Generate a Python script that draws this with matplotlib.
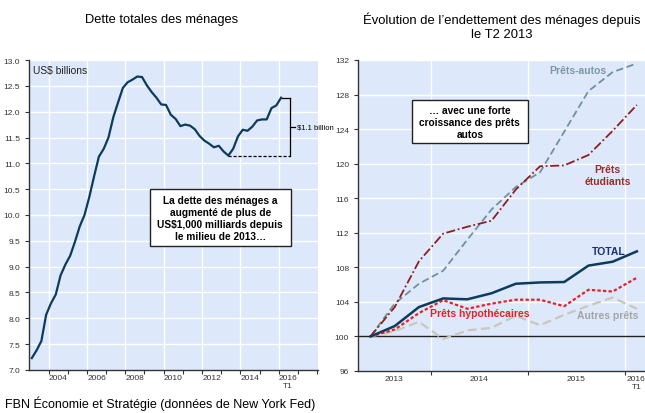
import numpy as np
import pandas as pd
import matplotlib
matplotlib.use("Agg")
import matplotlib.pyplot as plt
from matplotlib.patches import Rectangle
from matplotlib.ticker import FixedLocator, NullFormatter, FixedFormatter

plt.rcParams['font.family'] = ['Liberation Sans', 'DejaVu Sans']
NARROW = ['Liberation Sans Narrow', 'Liberation Sans', 'DejaVu Sans']

# --- data -------------------------------------------------------------
# household debt, trillions USD, 2003Q1..2016Q1
debt = [7.23, 7.38, 7.56, 8.07,
        8.29, 8.46, 8.83, 9.04,
        9.21, 9.48, 9.78, 10.00,
        10.35, 10.75, 11.13, 11.28,
        11.50, 11.89, 12.18, 12.46,
        12.57, 12.62, 12.68, 12.67,
        12.51, 12.38, 12.27, 12.14,
        12.13, 11.94, 11.86, 11.72,
        11.75, 11.73, 11.66, 11.53,
        11.44, 11.38, 11.31, 11.34,
        11.23, 11.15, 11.28, 11.52,
        11.65, 11.63, 11.71, 11.83,
        11.85, 11.85, 12.07, 12.12,
        12.27]
q_left = pd.period_range('2003Q1', '2016Q1', freq='Q')

# index 2013Q2 = 100
q_right = pd.period_range('2013Q2', '2016Q1', freq='Q')
autos = [100, 103.8, 106.1, 107.6, 111.2, 114.7, 117.3, 119.0, 123.7, 128.4, 130.6, 131.6]
etudiants = [100, 103.4, 108.7, 111.9, 112.7, 113.4, 117.0, 119.7, 119.8, 121.0, 123.8, 126.8]
total = [100, 101.2, 103.4, 104.4, 104.3, 105.0, 106.1, 106.25, 106.3, 108.2, 108.65, 109.85]
hypo = [100, 100.8, 102.7, 104.2, 103.2, 103.8, 104.25, 104.25, 103.5, 105.4, 105.2, 106.8]
autres = [100, 100.6, 101.7, 99.7, 100.7, 101.0, 102.4, 101.3, 102.5, 103.55, 104.5, 103.2]

left_years = [2004, 2006, 2008, 2010, 2012, 2014, 2016]
right_years = [2013, 2014, 2015, 2016]


def qpos(periods):
    return np.array([p.year + (p.quarter - 1) / 4 + 0.125 for p in periods])


def boxed(ax, x0, x1, y0, y1, txt):
    ax.add_patch(Rectangle((x0, y0), x1 - x0, y1 - y0, fc='white', ec='#222222', lw=1.0, zorder=5))
    ax.text((x0 + x1) / 2, (y0 + y1) / 2, txt, fontsize=7.3, fontweight='bold', ha='center',
            va='center', linespacing=1.25, zorder=6)


BG = '#dde9fa'
NAVY = '#0c3b5c'

fig = plt.figure(figsize=(6.45, 4.14), dpi=100)

# --- left chart -------------------------------------------------------
ax1 = fig.add_axes([29 / 645, 1 - 371 / 414, 289 / 645, 310 / 414])
ax1.set_facecolor(BG)
xl = qpos(q_left)
ax1.plot(xl, debt, color=NAVY, lw=1.6, zorder=3)
ax1.set_xlim(2002.98, 2018.05)
ax1.set_ylim(7.0, 13.0)
ax1.set_yticks(np.arange(7.0, 13.01, 0.5))
ax1.set_yticklabels([f"{v:.1f}" for v in np.arange(7.0, 13.01, 0.5)])
ax1.xaxis.set_major_locator(FixedLocator(np.arange(2004, 2019)))
ax1.xaxis.set_major_formatter(NullFormatter())
ax1.xaxis.set_minor_locator(FixedLocator([y + 0.5 for y in left_years]))
ax1.xaxis.set_minor_formatter(FixedFormatter([str(y) for y in left_years[:-1]] + ['2016\nT1']))
ax1.tick_params(axis='x', which='minor', length=0, pad=3)
ax1.tick_params(axis='both', which='major', length=3, width=0.8, color='#333333')
for lab in ax1.get_yticklabels() + ax1.get_xticklabels(which='minor'):
    lab.set_family(NARROW)
    lab.set_fontsize(6)
    lab.set_color('#333333')
for y in np.arange(7.5, 13.01, 0.5):
    ax1.axhline(y, color='white', lw=1.0, zorder=1)
for y in left_years:
    ax1.axvline(y, color='white', lw=1.0, zorder=1)
for s in ['top', 'right']:
    ax1.spines[s].set_visible(False)
for s in ['left', 'bottom']:
    ax1.spines[s].set_color('#333333')
    ax1.spines[s].set_linewidth(1.0)

ax1.text(0.015, 0.985, 'US$ billions', transform=ax1.transAxes, fontsize=7.4,
         va='top', ha='left', color='#222222')

# bracket for the rise since the 2013 low
imin = int(np.argmin(debt[40:])) + 40
xb = 2016.59
ax1.plot([xl[imin], xb], [debt[imin], debt[imin]], color='black', lw=0.9, ls=(0, (2.5, 1.5)), zorder=4)
ax1.plot([xl[-1] + 0.05, xb], [debt[-1], debt[-1]], color='black', lw=0.9, zorder=4)
ax1.plot([xb, xb], [debt[imin], debt[-1]], color='black', lw=0.9, zorder=4)
ymid = (debt[imin] + debt[-1]) / 2
ax1.plot([xb, xb + 0.25], [ymid, ymid], color='black', lw=0.9, zorder=4)
ax1.text(xb + 0.35, ymid, '$1.1 billion', fontsize=5.5, va='center', ha='left', clip_on=False)

boxed(ax1, 2009.28, 2016.62, 9.40, 10.50,
      'La dette des ménages a\naugmenté de plus de\nUS$1,000 milliards depuis\nle milieu de 2013…')

fig.text(162 / 645, 1 - 20 / 414, 'Dette totales des ménages', fontsize=9.3, ha='center', va='center')

# --- right chart ------------------------------------------------------
ax2 = fig.add_axes([358 / 645, 1 - 372 / 414, 290 / 645, 311 / 414])
ax2.set_facecolor(BG)
xr = qpos(q_right)
ax2.set_xlim(2013.246, 2016.24)
ax2.set_ylim(96, 132)
ax2.set_yticks(np.arange(96, 133, 4))
ax2.xaxis.set_major_locator(FixedLocator([2014, 2015, 2016]))
ax2.xaxis.set_major_formatter(NullFormatter())
ax2.xaxis.set_minor_locator(FixedLocator([2013.62, 2014.5, 2015.5, 2016.12]))
ax2.xaxis.set_minor_formatter(FixedFormatter(['2013', '2014', '2015', '2016\nT1']))
ax2.tick_params(axis='x', which='minor', length=0, pad=3)
ax2.tick_params(axis='both', which='major', length=3, width=0.8, color='#333333')
for lab in ax2.get_yticklabels() + ax2.get_xticklabels(which='minor'):
    lab.set_family(NARROW)
    lab.set_fontsize(6)
    lab.set_color('#333333')
for y in np.arange(104, 133, 4):
    ax2.axhline(y, color='white', lw=1.0, zorder=1)
for y in [2014, 2015, 2016]:
    ax2.axvline(y, color='white', lw=1.0, zorder=1)
ax2.axhline(100, color='#222222', lw=1.0, zorder=2)
for s in ['top', 'right']:
    ax2.spines[s].set_visible(False)
for s in ['left', 'bottom']:
    ax2.spines[s].set_color('#333333')
    ax2.spines[s].set_linewidth(1.0)

ax2.plot(xr, autres, color='#cbc6bb', lw=1.6, ls=(0, (4, 2)), zorder=3)
ax2.plot(xr, autos, color='#71909f', lw=1.3, ls=(0, (4, 2)), zorder=3)
ax2.plot(xr, etudiants, color='#8f1d1d', lw=1.3, ls=(0, (5, 1.5, 1, 1.5)), zorder=3)
ax2.plot(xr, hypo, color='#ee1c25', lw=1.6, ls=(0, (1.5, 1)), zorder=4)
ax2.plot(xr, total, color=NAVY, lw=1.8, zorder=5)

ax2.text(2015.52, 130.8, 'Prêts-autos', color='#7b97a8', fontsize=7.5, fontweight='bold', ha='center', va='center')
ax2.text(2015.82, 118.7, 'Prêts\nétudiants', color='#9e2a2b', fontsize=7.5, fontweight='bold',
         ha='center', va='center', linespacing=1.25)
ax2.text(2015.83, 109.9, 'TOTAL', color='#1c2e78', fontsize=7.5, fontweight='bold', ha='center', va='center')
ax2.text(2014.5, 102.7, 'Prêts hypothécaires', color='#ee1c25', fontsize=7.5, fontweight='bold',
         ha='center', va='center')
ax2.text(2015.82, 102.5, 'Autres prêts', color='#a4a4a4', fontsize=7.5, fontweight='bold',
         ha='center', va='center')

boxed(ax2, 2013.80, 2015.0, 122.39, 127.37, '… avec une forte\ncroissance des prêts\nautos')

fig.text(502 / 645, 1 - 27 / 414, "Évolution de l’endettement des ménages depuis\nle T2 2013",
         fontsize=9.4, ha='center', va='center', linespacing=1.2)

fig.text(5 / 645, 1 - 404 / 414, 'FBN Économie et Stratégie (données de New York Fed)',
         fontsize=9, ha='left', va='center')

fig.savefig('out.png', dpi=100)
